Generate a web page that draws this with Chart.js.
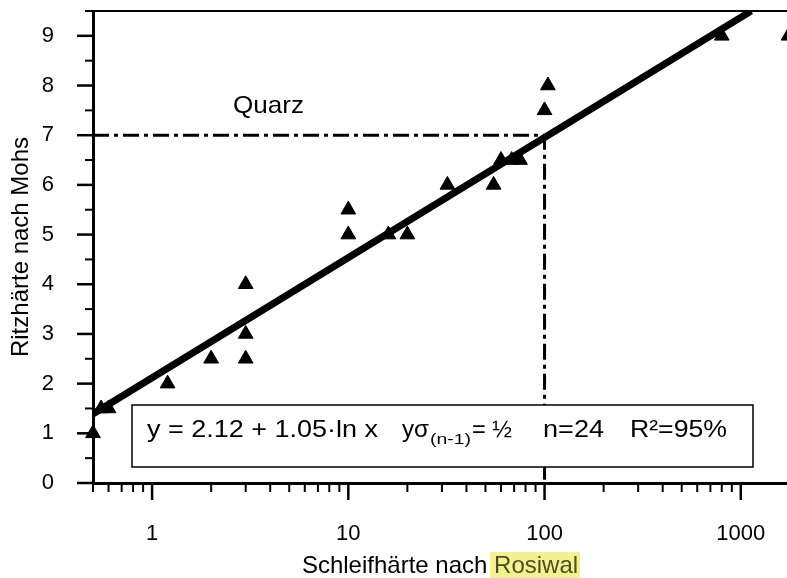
<!DOCTYPE html>
<html><head><meta charset="utf-8">
<script src="https://cdn.jsdelivr.net/npm/chart.js@4/dist/chart.umd.min.js"></script>
<style>html,body{margin:0;padding:0;background:#fff;overflow:hidden}#wrap{width:787px;height:578px}</style>
</head><body><div id="wrap"><canvas id="c" width="787" height="578"></canvas></div>
<script>
// ---- data ----
const hardX = [0.5, 0.55, 0.6, 1.2, 2, 3, 3, 3, 10, 10, 16, 20, 32, 55, 60, 68, 75, 100, 104, 800, 1750];
const mohsY = [1, 1.5, 1.5, 2, 2.5, 2.5, 3, 4, 5, 5.5, 5, 5, 6, 6, 6.5, 6.5, 6.5, 7.5, 8, 9, 9];
const fitX = [0.5, 1130];
const fitY = [1.39, 9.5];
const quarzX = [0.5, 100, 100];
const quarzY = [7, 7, 0];
const xTickValues = [1, 10, 100, 1000];
const xMinorValues = [0.5, 0.6, 0.7, 0.8, 0.9, 2, 3, 4, 5, 6, 7, 8, 9, 20, 30, 40, 50, 60, 70, 80, 90, 200, 300, 400, 500, 600, 700, 800, 900];
const yTickValues = [0, 1, 2, 3, 4, 5, 6, 7, 8, 9];
const yMinorValues = [0.5, 1.5, 2.5, 3.5, 4.5, 5.5, 6.5, 7.5, 8.5, 9.5];
const xTitleMain = 'Schleifhärte nach ';
const xTitleMark = 'Rosiwal';
const yTitle = 'Ritzhärte nach Mohs';
const quarzLabel = 'Quarz';

const FONT = "'Liberation Sans', Arial, Helvetica, sans-serif";
Chart.defaults.font.family = FONT;
Chart.defaults.color = '#000';

function fitText(ctx, text, x, y, w, font) {
  ctx.save();
  ctx.font = font;
  const m = ctx.measureText(text).width;
  ctx.translate(x, y);
  ctx.scale(w / m, 1);
  ctx.fillText(text, 0, 0);
  ctx.restore();
}

const decor = {
  id: 'decor',
  beforeDraw(chart) {
    const ctx = chart.ctx;
    ctx.save();
    ctx.fillStyle = '#fff';
    ctx.fillRect(0, 0, chart.width, chart.height);
    ctx.restore();
  },
  afterDatasetsDraw(chart) {
    const ctx = chart.ctx;
    ctx.save();
    // equation box
    ctx.fillStyle = '#fff';
    ctx.fillRect(132, 405, 621, 62);
    ctx.strokeStyle = '#000';
    ctx.lineWidth = 1.5;
    ctx.strokeRect(132, 405, 621, 62);
    ctx.fillStyle = '#000';
    ctx.textBaseline = 'alphabetic';
    const F = '24px ' + FONT;
    fitText(ctx, 'y = 2.12 + 1.05·ln x', 147, 437, 231, F);
    fitText(ctx, 'yσ', 402, 437, 27, F);
    fitText(ctx, '(n-1)', 430, 444, 41, '15px ' + FONT);
    fitText(ctx, '= ½', 472, 437, 40, F);
    fitText(ctx, 'n=24', 543, 437, 61, F);
    fitText(ctx, 'R²=95%', 630, 437, 97, F);
    // Quarz label
    fitText(ctx, quarzLabel, 233, 113, 71, '24px ' + FONT);
    ctx.restore();
  },
  afterDraw(chart) {
    const ctx = chart.ctx;
    const ca = chart.chartArea;
    const xs = chart.scales.x, ys = chart.scales.y;
    ctx.save();
    ctx.strokeStyle = '#000';
    ctx.lineCap = 'butt';
    const line = (x1, y1, x2, y2, w) => { ctx.lineWidth = w; ctx.beginPath(); ctx.moveTo(x1, y1); ctx.lineTo(x2, y2); ctx.stroke(); };
    line(ca.left - 8, ca.top, ca.right, ca.top, 2);
    yTickValues.forEach(v => { const p = ys.getPixelForValue(v); line(ca.left - 16, p, ca.left, p, 2.5); });
    yMinorValues.forEach(v => { const p = ys.getPixelForValue(v); line(ca.left - 8, p, ca.left, p, 2); });
    xTickValues.forEach(v => { const p = xs.getPixelForValue(v); line(p, ca.bottom, p, ca.bottom + 17, 2.5); });
    xMinorValues.forEach(v => { const p = xs.getPixelForValue(v); line(p, ca.bottom, p, ca.bottom + 9, 2); });
    // x axis title with highlighted word
    ctx.font = '24px ' + FONT;
    ctx.textBaseline = 'alphabetic';
    const w1 = ctx.measureText(xTitleMain).width;
    const w2 = ctx.measureText(xTitleMark).width;
    const cx = (ca.left + ca.right) / 2;
    const x0 = cx - (w1 + w2) / 2;
    ctx.fillStyle = '#f3f293';
    ctx.fillRect(x0 + w1 - 4, 552, w2 + 6, 26);
    ctx.fillStyle = '#000';
    ctx.fillText(xTitleMain, x0, 573);
    ctx.fillStyle = '#4f4e1c';
    ctx.fillText(xTitleMark, x0 + w1, 573);
    ctx.restore();
  }
};

new Chart(document.getElementById('c'), {
  type: 'scatter',
  data: {
    datasets: [
      {
        label: 'Regression',
        data: fitX.map((x, i) => ({ x, y: fitY[i] })),
        showLine: true, borderColor: '#000', borderWidth: 7, pointRadius: 0, borderCapStyle: 'butt'
      },
      {
        label: 'Messwerte',
        data: hardX.map((x, i) => ({ x, y: mohsY[i] })),
        pointStyle: 'triangle', pointRadius: 8.5, backgroundColor: '#000', borderColor: '#000', borderWidth: 1, clip: false
      },
      {
        label: 'Quarz',
        data: quarzX.map((x, i) => ({ x, y: quarzY[i] })),
        showLine: true, borderColor: '#000', borderWidth: 3, borderDash: [16, 5, 4, 5], pointRadius: 0
      }
    ]
  },
  options: {
    responsive: false, animation: false, events: [],
    layout: { autoPadding: false, padding: { top: 11, right: 0, left: 0, bottom: 0 } },
    plugins: { legend: { display: false }, tooltip: { enabled: false } },
    scales: {
      x: {
        type: 'logarithmic', min: 0.5, max: 1720,
        grid: { display: false },
        border: { display: true, color: '#000', width: 3 },
        afterBuildTicks: s => { s.ticks = xTickValues.map(v => ({ value: v })); },
        afterFit: s => { s.height = 95; s.paddingLeft = 0; s.paddingRight = 0; s.paddingTop = 0; s.paddingBottom = 0; },
        ticks: { padding: 30, font: { size: 22 }, color: '#000', maxRotation: 0, autoSkip: false, callback: v => String(v) }
      },
      y: {
        type: 'linear', min: 0, max: 9.5,
        grid: { display: false },
        border: { display: true, color: '#000', width: 3 },
        afterBuildTicks: s => { s.ticks = yTickValues.map(v => ({ value: v })); },
        afterFit: s => { s.width = 93; s.paddingLeft = 0; s.paddingRight = 0; s.paddingTop = 0; s.paddingBottom = 0; },
        ticks: { padding: 31, font: { size: 22 }, color: '#000', autoSkip: false, callback: v => String(v) },
        title: { display: true, text: yTitle, font: { size: 24 }, color: '#000', padding: { top: 7, bottom: 0 } }
      }
    }
  },
  plugins: [decor]
});
</script>
</body></html>
